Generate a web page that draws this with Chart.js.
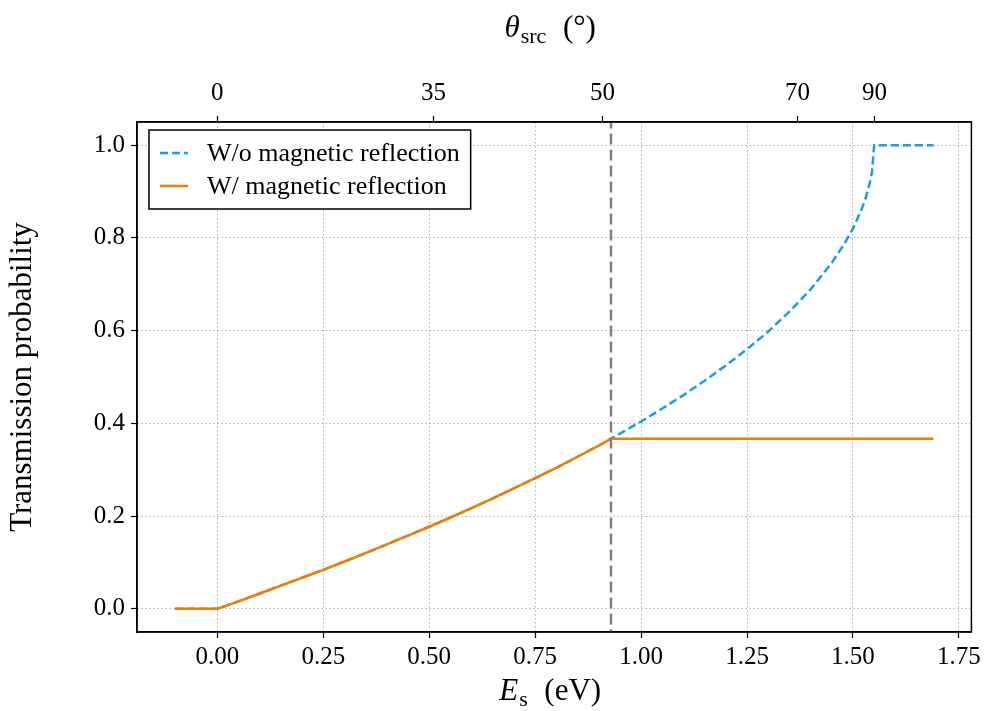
<!DOCTYPE html>
<html>
<head>
<meta charset="utf-8">
<script src="https://cdn.jsdelivr.net/npm/chart.js@4.4.1/dist/chart.umd.min.js"></script>
<style>
  html, body { margin: 0; padding: 0; background: #fff; }
  #wrap { width: 985px; height: 711px; }
</style>
</head>
<body>
<div id="wrap"><canvas id="chart" width="985" height="711"></canvas></div>
<script>
// energy (eV) and transmission probability
const energyLow = [-0.1, 0, 0.05, 0.1, 0.15, 0.2, 0.25, 0.3, 0.35, 0.4, 0.45, 0.5, 0.55, 0.6, 0.65, 0.7, 0.75, 0.8, 0.85, 0.9, 0.929];
const probLow = [0, 0, 0.016, 0.033, 0.050, 0.067, 0.084, 0.102, 0.120, 0.139, 0.158, 0.177, 0.197, 0.217, 0.238, 0.260, 0.282, 0.304, 0.328, 0.352, 0.367];
const energyHigh = [0.95, 1.0, 1.05, 1.1, 1.15, 1.2, 1.25, 1.3, 1.35, 1.4, 1.45, 1.48, 1.5, 1.52, 1.53, 1.54, 1.545, 1.55, 1.69];
const probNoRefl = [0.378, 0.404, 0.432, 0.461, 0.492, 0.525, 0.560, 0.598, 0.641, 0.689, 0.746, 0.788, 0.820, 0.861, 0.886, 0.920, 0.943, 1.0, 1.0];
const probRefl = [0.367, 0.367, 0.367, 0.367, 0.367, 0.367, 0.367, 0.367, 0.367, 0.367, 0.367, 0.367, 0.367, 0.367, 0.367, 0.367, 0.367, 0.367, 0.367];
const cutoffEnergy = 0.929;

const xTicks = [0, 0.25, 0.5, 0.75, 1.0, 1.25, 1.5, 1.75];
const yTicks = [0, 0.2, 0.4, 0.6, 0.8, 1.0];
// top axis: source angle labels at their energy positions
const thetaTickPos = [0, 0.510, 0.909, 1.369, 1.551];
const thetaTickLabels = ['0', '35', '50', '70', '90'];

const labelNoRefl = 'W/o magnetic reflection';
const labelRefl = 'W/ magnetic reflection';
const yTitle = 'Transmission probability';

const BLUE = '#1c9de3';
const ORANGE = '#f57c00';
const SERIF = '"Liberation Serif", "DejaVu Serif", serif';

const toXY = (xs, ys) => xs.map((x, i) => ({ x: x, y: ys[i] }));

const noReflData = toXY(energyLow.concat(energyHigh), probLow.concat(probNoRefl));
const reflData = toXY(energyLow.concat(energyHigh), probLow.concat(probRefl));
const cutoffData = [{ x: cutoffEnergy, y: -1 }, { x: cutoffEnergy, y: 2 }];

// frame on all four sides
const framePlugin = {
  id: 'frame',
  afterDatasetsDraw(chart) {
    const a = chart.chartArea;
    const ctx = chart.ctx;
    ctx.save();
    ctx.strokeStyle = '#000';
    ctx.lineWidth = 1.5;
    ctx.setLineDash([]);
    ctx.strokeRect(a.left, a.top, a.right - a.left, a.bottom - a.top);
    ctx.restore();
  }
};

// math-style axis titles with subscripts
const drawSubTitle = (ctx, cx, cy, main, sub, rest) => {
  const big = '31px ' + SERIF;
  const bigIt = 'italic 31px ' + SERIF;
  const small = '22px ' + SERIF;
  ctx.font = bigIt;
  const w1 = ctx.measureText(main).width;
  ctx.font = small;
  const w2 = ctx.measureText(sub).width;
  ctx.font = big;
  const w3 = ctx.measureText(rest).width;
  let x = cx - (w1 + w2 + w3 + 2) / 2;
  ctx.textBaseline = 'alphabetic';
  ctx.textAlign = 'left';
  ctx.fillStyle = '#000';
  ctx.font = bigIt;
  ctx.fillText(main, x, cy);
  x += w1 + 1;
  ctx.font = small;
  ctx.fillText(sub, x, cy + 6);
  x += w2 + 1;
  ctx.font = big;
  ctx.fillText(rest, x, cy);
};

const titlesPlugin = {
  id: 'titles',
  afterDraw(chart) {
    const a = chart.chartArea;
    const ctx = chart.ctx;
    const cx = (a.left + a.right) / 2 - 4;
    ctx.save();
    drawSubTitle(ctx, cx, a.bottom + 68, 'E', 's', '  (eV)');
    drawSubTitle(ctx, cx, a.top - 85, '\u03b8', 'src', '  (\u00b0)');
    ctx.restore();
  }
};

// boxed legend inside the plot, upper left
const legendPlugin = {
  id: 'boxLegend',
  afterDraw(chart) {
    const a = chart.chartArea;
    const ctx = chart.ctx;
    const items = chart.data.datasets.filter(d => d.label);
    const left = a.left + 12, top = a.top + 8;
    const rowH = 33;
    ctx.save();
    ctx.font = '26px ' + SERIF;
    const textW = Math.max(...items.map(d => ctx.measureText(d.label).width));
    const w = 58 + textW + 11, h = rowH * items.length + 13;
    ctx.fillStyle = '#fff';
    ctx.fillRect(left, top, w, h);
    ctx.strokeStyle = '#000';
    ctx.lineWidth = 1.5;
    ctx.setLineDash([]);
    ctx.strokeRect(left, top, w, h);
    items.forEach((d, i) => {
      const y = top + 23 + i * rowH;
      ctx.beginPath();
      ctx.strokeStyle = d.borderColor;
      ctx.lineWidth = d.borderWidth;
      ctx.setLineDash(d.borderDash || []);
      ctx.moveTo(left + 11, y);
      ctx.lineTo(left + 39, y);
      ctx.stroke();
      ctx.setLineDash([]);
      ctx.fillStyle = '#000';
      ctx.textBaseline = 'middle';
      ctx.textAlign = 'left';
      ctx.fillText(d.label, left + 58, y + 1);
    });
    ctx.restore();
  }
};

const gridStyle = {
  color: '#b0b0b0',
  lineWidth: 1,
  tickColor: '#000',
  tickLength: 6,
  tickWidth: 1.2,
  tickBorderDash: []
};

const borderStyle = { display: true, color: '#000', width: 1.5, dash: [1.5, 2.5] };

const tickFont = { family: SERIF, size: 25 };

new Chart(document.getElementById('chart').getContext('2d'), {
  type: 'line',
  data: {
    datasets: [
      {
        label: '',
        data: cutoffData,
        borderColor: '#808080',
        borderWidth: 2.5,
        borderDash: [11, 5],
        pointRadius: 0,
        order: 0
      },
      {
        label: labelNoRefl,
        data: noReflData,
        borderColor: BLUE,
        borderWidth: 2.5,
        borderDash: [8, 4],
        pointRadius: 0,
        tension: 0,
        order: 2
      },
      {
        label: labelRefl,
        data: reflData,
        borderColor: ORANGE,
        borderWidth: 2.5,
        pointRadius: 0,
        tension: 0,
        order: 1
      }
    ]
  },
  options: {
    responsive: false,
    animation: false,
    layout: { padding: { left: 0, right: 10, top: 0, bottom: 0 } },
    plugins: {
      legend: { display: false },
      tooltip: { enabled: false }
    },
    scales: {
      x: {
        type: 'linear',
        position: 'bottom',
        min: -0.1895,
        max: 1.7795,
        afterBuildTicks: s => { s.ticks = xTicks.map(v => ({ value: v })); },
        afterFit: s => { s.height = 79; },
        ticks: {
          font: tickFont,
          color: '#000',
          padding: 4,
          maxRotation: 0,
          callback: v => v.toFixed(2)
        },
        grid: gridStyle,
        border: borderStyle
      },
      x2: {
        type: 'linear',
        position: 'top',
        min: -0.1895,
        max: 1.7795,
        afterBuildTicks: s => { s.ticks = thetaTickPos.map(v => ({ value: v })); },
        afterFit: s => { s.height = 122; },
        ticks: {
          font: tickFont,
          color: '#000',
          padding: 8,
          maxRotation: 0,
          callback: (v, i) => thetaTickLabels[i]
        },
        grid: {
          drawOnChartArea: false,
          tickColor: '#000',
          tickLength: 6,
          tickWidth: 1.2
        },
        border: { display: true, color: '#000', width: 1.5 }
      },
      y: {
        type: 'linear',
        min: -0.05,
        max: 1.05,
        afterBuildTicks: s => { s.ticks = yTicks.map(v => ({ value: v })); },
        afterFit: s => { s.width = 137; },
        ticks: {
          font: tickFont,
          color: '#000',
          padding: 6,
          callback: v => v.toFixed(1)
        },
        title: {
          display: true,
          text: yTitle,
          color: '#000',
          font: { family: SERIF, size: 31 },
          padding: { top: 4, bottom: 0 }
        },
        grid: gridStyle,
        border: borderStyle
      }
    }
  },
  plugins: [framePlugin, titlesPlugin, legendPlugin]
});
</script>
</body>
</html>
